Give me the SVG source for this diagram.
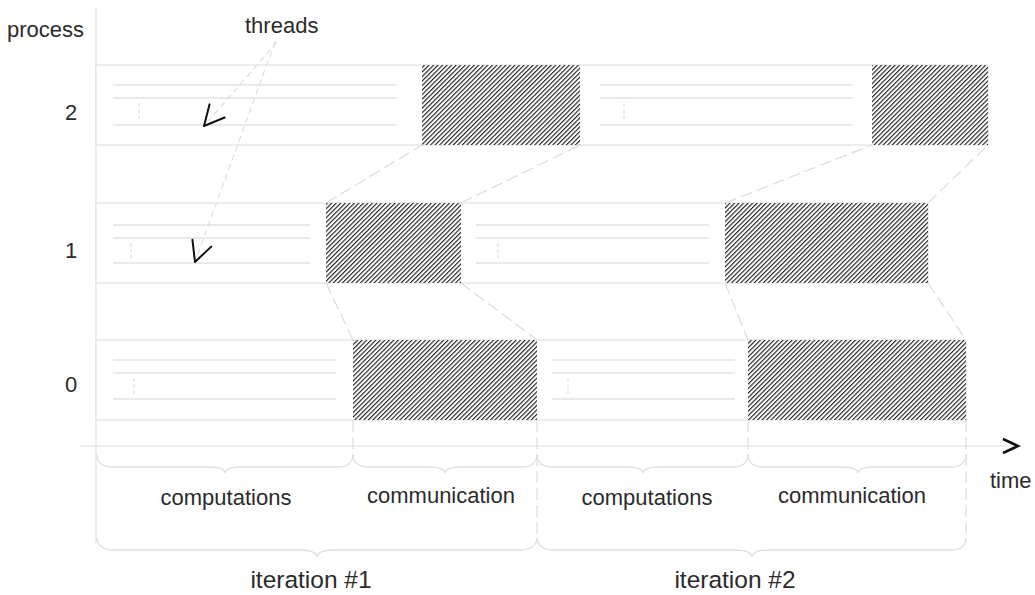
<svg xmlns="http://www.w3.org/2000/svg" width="1035" height="595" viewBox="0 0 1035 595">
  <style>
    .lbl { font-family: "Liberation Sans", Arial, sans-serif; font-size: 22px; fill: #2b2b2b; }
    .big { font-size: 24.5px; }
    .row { fill: #ffffff; stroke: #e2e2e2; stroke-width: 1.2; }
    .hatch { fill: url(#diag); stroke: none; }
    .thr { stroke: #e2e2e2; stroke-width: 1.3; fill: none; }
    .tick { stroke: #e2e2e2; stroke-width: 1.3; stroke-dasharray: 4 2; fill: none; }
    .link { stroke: #dcdcdc; stroke-width: 1.2; stroke-dasharray: 12 5; fill: none; }
    .guide { stroke: #e0e0e0; stroke-width: 1.2; fill: none; }
    .brace { stroke: #e0e0e0; stroke-width: 1.3; fill: none; }
    .ptr { stroke: #dcdcdc; stroke-width: 1.1; stroke-dasharray: 6 4; fill: none; }
  </style>
  <defs>
    <pattern id="diag" width="3.2" height="3.2" patternUnits="userSpaceOnUse" patternTransform="rotate(45)">
      <rect width="3.2" height="3.2" fill="#ffffff"/>
      <line x1="0" y1="0" x2="0" y2="3.2" stroke="#222" stroke-width="2.3"/>
    </pattern>
    <marker id="vee" markerUnits="userSpaceOnUse" markerWidth="30" markerHeight="30" refX="0" refY="0" viewBox="-25 -15 30 30" orient="auto" overflow="visible">
      <path d="M-20,-10 L0,0 L-20,10" fill="none" stroke="#111" stroke-width="2" stroke-linecap="round" stroke-linejoin="round"/>
    </marker>
  </defs>

  <!-- axes -->
  <g id="axes">
    <line class="guide" x1="96" y1="8" x2="96" y2="543"/>
    <line class="guide" x1="80" y1="446" x2="1010" y2="446"/>
    <path d="M1003,439 L1018,446 L1003,453" fill="none" stroke="#111" stroke-width="2.6" stroke-linejoin="miter"/>
    <text class="lbl" x="7" y="37">process</text>
    <text class="lbl" x="990" y="488">time</text>
  </g>

  <!-- process 2 -->
  <g id="proc2">
    <rect class="row" x="96" y="65" width="892" height="80"/>
    <rect class="hatch" x="422" y="65" width="158" height="80"/>
    <rect class="hatch" x="872" y="65" width="116" height="80"/>
    <path class="thr" d="M113,85 H397 M113,98 H397 M113,125 H397 M600,85 H853 M600,98 H853 M600,125 H853"/>
    <path class="tick" d="M139,103 V120 M624,103 V120"/>
    <text class="lbl" x="65" y="120">2</text>
  </g>

  <!-- process 1 -->
  <g id="proc1">
    <rect class="row" x="96" y="203" width="832" height="80"/>
    <rect class="hatch" x="326" y="203" width="135" height="80"/>
    <rect class="hatch" x="725" y="203" width="203" height="80"/>
    <path class="thr" d="M113,225 H310 M113,238 H310 M113,263 H310 M476,225 H709 M476,238 H709 M476,263 H709"/>
    <path class="tick" d="M131,243 V258 M498,243 V258"/>
    <text class="lbl" x="65" y="258">1</text>
  </g>

  <!-- process 0 -->
  <g id="proc0">
    <rect class="row" x="96" y="340" width="870" height="80"/>
    <rect class="hatch" x="353" y="340" width="184" height="80"/>
    <rect class="hatch" x="748" y="340" width="218" height="80"/>
    <path class="thr" d="M113,360 H336 M113,373 H336 M113,399 H336 M552,360 H735 M552,373 H735 M552,399 H735"/>
    <path class="tick" d="M134,378 V395 M568,378 V395"/>
    <text class="lbl" x="65" y="392">0</text>
  </g>

  <!-- dashed links between communication phases -->
  <g id="connectors">
    <line class="link" x1="326" y1="203" x2="422" y2="145"/>
    <line class="link" x1="461" y1="203" x2="580" y2="145"/>
    <line class="link" x1="725" y1="203" x2="872" y2="145"/>
    <line class="link" x1="928" y1="203" x2="988" y2="145"/>
    <line class="link" x1="326" y1="283" x2="353" y2="340"/>
    <line class="link" x1="461" y1="283" x2="537" y2="340"/>
    <line class="link" x1="725" y1="283" x2="748" y2="340"/>
    <line class="link" x1="928" y1="283" x2="966" y2="340"/>
    <path class="link" d="M353,420 V458 M537,420 V543 M748,420 V458 M966,420 V543" stroke-dasharray="14 3"/>
  </g>

  <!-- thread pointers -->
  <g id="threads">
    <text class="lbl" x="245" y="33">threads</text>
    <line class="ptr" x1="277" y1="42" x2="204" y2="126" marker-end="url(#vee)"/>
    <line class="ptr" x1="275" y1="42" x2="195" y2="262" marker-end="url(#vee)"/>
  </g>

  <!-- phase braces -->
  <g id="phases">
    <path class="brace" d="M97,455 Q98,467 112,467 H209 Q224,467 225,473 Q226,467 241,467 H338 Q352,467 353,455"/>
    <path class="brace" d="M353,455 Q354,467 368,467 H429 Q444,467 445,473 Q446,467 461,467 H522 Q536,467 537,455"/>
    <path class="brace" d="M537,455 Q538,467 552,467 H627 Q642,467 643,473 Q644,467 659,467 H733 Q747,467 748,455"/>
    <path class="brace" d="M748,455 Q749,467 763,467 H842 Q857,467 858,473 Q859,467 874,467 H951 Q965,467 966,455"/>
    <text class="lbl" x="226" y="505" text-anchor="middle">computations</text>
    <text class="lbl" x="441" y="503" text-anchor="middle">communication</text>
    <text class="lbl" x="647" y="505" text-anchor="middle">computations</text>
    <text class="lbl" x="852" y="503" text-anchor="middle">communication</text>
  </g>

  <!-- iteration braces -->
  <g id="iterations">
    <path class="brace" d="M97,538 Q98,550 114,550 H300 Q316,550 317,557 Q318,550 334,550 H520 Q536,550 537,538"/>
    <path class="brace" d="M537,538 Q538,550 554,550 H735 Q751,550 752,557 Q753,550 769,550 H950 Q966,550 966,538"/>
    <text class="lbl big" x="311" y="588" text-anchor="middle">iteration #1</text>
    <text class="lbl big" x="735" y="588" text-anchor="middle">iteration #2</text>
  </g>
</svg>
